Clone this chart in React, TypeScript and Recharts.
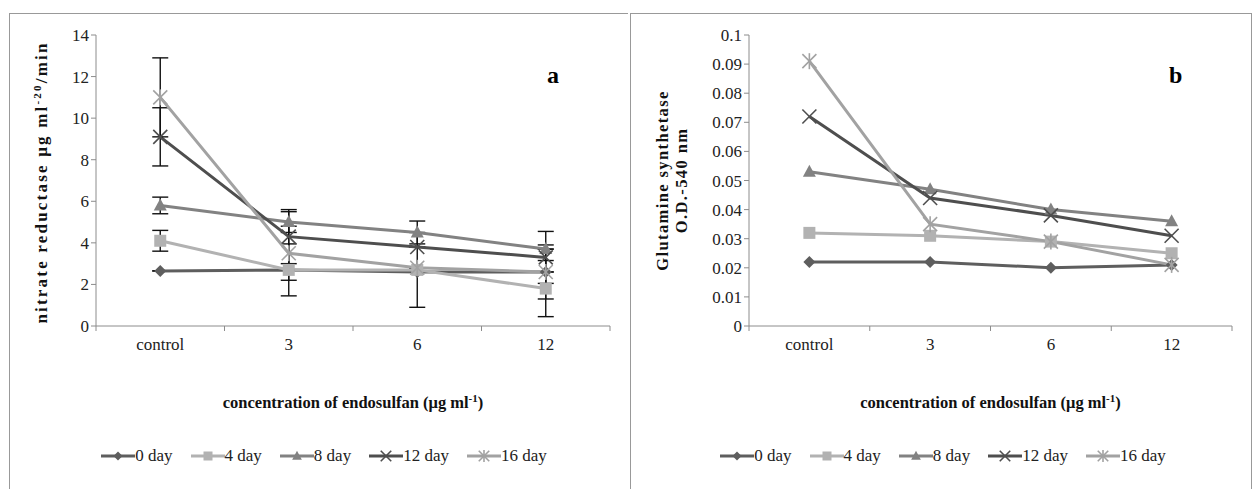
import React from "react";
import { LineChart, Line, XAxis, YAxis, ErrorBar } from "recharts";

const categories = ["control", "3", "6", "12"];
const seriesNames = ["0 day", "4 day", "8 day", "12 day", "16 day"];
const seriesColors = ["#5e5e5e", "#b2b2b2", "#828282", "#4e4e4e", "#a2a2a2"];
const seriesShapes = ["diamond", "square", "triangle", "cross", "star"];

// panel a: nitrate reductase
const nr0 = [2.65, 2.7, 2.6, 2.6];
const nr4 = [4.1, 2.7, 2.7, 1.8];
const nr8 = [5.8, 5.0, 4.5, 3.7];
const nr12 = [9.1, 4.3, 3.8, 3.3];
const nr16 = [11.0, 3.5, 2.8, 2.6];
// error bars [minus, plus], null where none drawn
const nrErr0 = [null, null, null, [1.3, 1.3]];
const nrErr4 = [[0.5, 0.5], [1.25, 1.25], [1.8, 1.8], [1.35, 1.35]];
const nrErr8 = [[0.4, 0.4], [0.5, 0.5], [0.55, 0.55], null];
const nrErr12 = [[1.4, 1.4], [1.3, 1.3], null, [1.25, 1.25]];
const nrErr16 = [[1.9, 1.9], [1.3, 1.3], null, null];
const nrTicks = [0, 2, 4, 6, 8, 10, 12, 14];

// panel b: glutamine synthetase
const gs0 = [0.022, 0.022, 0.02, 0.021];
const gs4 = [0.032, 0.031, 0.029, 0.025];
const gs8 = [0.053, 0.047, 0.04, 0.036];
const gs12 = [0.072, 0.044, 0.038, 0.031];
const gs16 = [0.091, 0.035, 0.029, 0.021];
const gsTicks = [0, 0.01, 0.02, 0.03, 0.04, 0.05, 0.06, 0.07, 0.08, 0.09, 0.1];
const gsTickLabels = ["0", "0.01", "0.02", "0.03", "0.04", "0.05", "0.06", "0.07", "0.08", "0.09", "0.1"];

const xBounds = [0, 1, 2, 3, 4];

const FONT = "Liberation Serif";
const AXIS = "#8c8c8c";

const buildRows = (vals: number[][], errs?: any[][]) =>
  categories.map((c, i) => {
    const row: any = { x: i + 0.5, cat: c };
    vals.forEach((v, s) => {
      row["s" + s] = v[i];
      if (errs) row["e" + s] = errs[s][i] ?? [0, 0];
    });
    return row;
  });

const rowsA = buildRows([nr0, nr4, nr8, nr12, nr16], [nrErr0, nrErr4, nrErr8, nrErr12, nrErr16]);
const rowsB = buildRows([gs0, gs4, gs8, gs12, gs16]);

const Marker = ({ shape, cx, cy, color, s = 1 }: any) => {
  if (cx == null || cy == null) return null;
  switch (shape) {
    case "diamond":
      return <polygon points={`${cx},${cy - 6 * s} ${cx + 6 * s},${cy} ${cx},${cy + 6 * s} ${cx - 6 * s},${cy}`} fill={color} />;
    case "square":
      return <rect x={cx - 6 * s} y={cy - 6 * s} width={12 * s} height={12 * s} fill={color} />;
    case "triangle":
      return <polygon points={`${cx},${cy - 7 * s} ${cx + 6.5 * s},${cy + 5 * s} ${cx - 6.5 * s},${cy + 5 * s}`} fill={color} />;
    case "cross":
      return (
        <g stroke={color} strokeWidth={1.6}>
          <line x1={cx - 7 * s} y1={cy - 7 * s} x2={cx + 7 * s} y2={cy + 7 * s} />
          <line x1={cx - 7 * s} y1={cy + 7 * s} x2={cx + 7 * s} y2={cy - 7 * s} />
        </g>
      );
    default:
      return (
        <g stroke={color} strokeWidth={1.6}>
          <line x1={cx - 7 * s} y1={cy - 7 * s} x2={cx + 7 * s} y2={cy + 7 * s} />
          <line x1={cx - 7 * s} y1={cy + 7 * s} x2={cx + 7 * s} y2={cy - 7 * s} />
          <line x1={cx} y1={cy - 8 * s} x2={cx} y2={cy + 8 * s} />
        </g>
      );
  }
};

const makeXTick = (plotWidth: number) => (props: any) => {
  const { x, y, payload } = props;
  const i = payload.value;
  if (i >= categories.length) return <g />;
  return (
    <text x={x + plotWidth / 8} y={y + 17} textAnchor="middle" fontFamily={FONT} fontSize={17} fill="#222">
      {categories[i]}
    </text>
  );
};

const XTitle = ({ viewBox }: any) => {
  const cx = viewBox.x + viewBox.width / 2;
  return (
    <text x={cx} y={viewBox.y + 82} textAnchor="middle" fontFamily={FONT} fontSize={16.5} fontWeight="bold" fill="#111">
      concentration of endosulfan (μg ml
      <tspan dy={-6} fontSize={11}>-1</tspan>
      <tspan dy={6}>)</tspan>
    </text>
  );
};

const Legend = ({ center }: { center: number }) => (
  <div
    style={{
      position: "absolute",
      top: 446,
      left: center - 300,
      width: 600,
      display: "flex",
      justifyContent: "center",
      gap: 18,
      fontFamily: FONT,
      fontSize: 17,
      color: "#222",
    }}
  >
    {seriesNames.map((n, s) => (
      <div key={n} style={{ display: "flex", alignItems: "center" }}>
        <svg width={34} height={20}>
          <line x1={0} y1={10} x2={34} y2={10} stroke={seriesColors[s]} strokeWidth={3} />
          <Marker shape={seriesShapes[s]} cx={17} cy={10} color={seriesColors[s]} s={0.75} />
        </svg>
        <span>{n}</span>
      </div>
    ))}
  </div>
);

const renderLines = (withErr: boolean) =>
  seriesNames.map((n, s) => (
    <Line
      key={n}
      dataKey={"s" + s}
      name={n}
      type="linear"
      stroke={seriesColors[s]}
      strokeWidth={3}
      isAnimationActive={false}
      dot={(p: any) => <Marker key={p.key ?? p.index} shape={seriesShapes[s]} cx={p.cx} cy={p.cy} color={seriesColors[s]} />}
      activeDot={false}
    >
      {withErr && <ErrorBar dataKey={"e" + s} direction="y" width={8} stroke="#111" strokeWidth={1.4} isAnimationActive={false} />}
    </Line>
  ));

const A_W = 619;
const A_YW = 87;
const A_PLOT = A_W - A_YW - 18;
const B_W = 622;
const B_YW = 119;
const B_PLOT = B_W - B_YW - 20;

const tickStyle = { fontFamily: FONT, fontSize: 17, fill: "#222" };

export default function App() {
  return (
    <div style={{ position: "fixed", left: 0, top: 0, width: 1257, height: 489, background: "#fff", overflow: "hidden" }}>
      <div style={{ position: "absolute", left: 9, top: 13, width: A_W, height: 480, borderTop: "1.5px solid #999", borderLeft: "1.5px solid #999", boxSizing: "border-box" }} />
      <div style={{ position: "absolute", left: 630, top: 13, width: B_W, height: 480, border: "1.5px solid #999", boxSizing: "border-box" }} />

      <div style={{ position: "absolute", left: 9, top: 13 }}>
        <LineChart width={A_W} height={476} data={rowsA} margin={{ top: 22, right: 18, left: 0, bottom: 83 }}>
          <XAxis
            dataKey="x"
            type="number"
            domain={[0, 4]}
            ticks={xBounds}
            interval={0}
            height={80}
            stroke={AXIS}
            tickSize={5}
            tick={makeXTick(A_PLOT)}
            label={<XTitle />}
          />
          <YAxis
            domain={[0, 14]}
            ticks={nrTicks}
            interval={0}
            width={A_YW}
            stroke={AXIS}
            tickSize={5}
            tick={tickStyle}
            label={({ viewBox }: any) => (
              <text
                transform={`translate(${viewBox.x + 38}, ${viewBox.y + viewBox.height / 2 + 2}) rotate(-90)`}
                textAnchor="middle"
                fontFamily={FONT}
                fontSize={17}
                fontWeight="bold"
                letterSpacing={2.2}
                fill="#111"
              >
                nitrate reductase  μg ml
                <tspan dy={-6} fontSize={11}>-20</tspan>
                <tspan dy={6}>/min</tspan>
              </text>
            )}
          />
          {renderLines(true)}
        </LineChart>
      </div>

      <div style={{ position: "absolute", left: 630, top: 13 }}>
        <LineChart width={B_W} height={476} data={rowsB} margin={{ top: 22, right: 20, left: 0, bottom: 83 }}>
          <XAxis
            dataKey="x"
            type="number"
            domain={[0, 4]}
            ticks={xBounds}
            interval={0}
            height={80}
            stroke={AXIS}
            tickSize={5}
            tick={makeXTick(B_PLOT)}
            label={<XTitle />}
          />
          <YAxis
            domain={[0, 0.1]}
            ticks={gsTicks}
            interval={0}
            width={B_YW}
            stroke={AXIS}
            tickSize={5}
            tick={tickStyle}
            tickFormatter={(v: number) => gsTickLabels[gsTicks.indexOf(v)] ?? String(v)}
            label={({ viewBox }: any) => {
              const cy = viewBox.y + viewBox.height / 2;
              return (
                <g fontFamily={FONT} fontSize={16.5} fontWeight="bold" fill="#111" textAnchor="middle" letterSpacing={1.4}>
                  <text transform={`translate(${viewBox.x + 38}, ${cy}) rotate(-90)`}>Glutamine synthetase</text>
                  <text transform={`translate(${viewBox.x + 57}, ${cy}) rotate(-90)`}>O.D.-540 nm</text>
                </g>
              );
            }}
          />
          {renderLines(false)}
        </LineChart>
      </div>

      <div style={{ position: "absolute", left: 547, top: 62, fontFamily: FONT, fontSize: 24, fontWeight: "bold" }}>a</div>
      <div style={{ position: "absolute", left: 1169, top: 62, fontFamily: FONT, fontSize: 24, fontWeight: "bold" }}>b</div>

      <Legend center={324} />
      <Legend center={943} />
    </div>
  );
}
